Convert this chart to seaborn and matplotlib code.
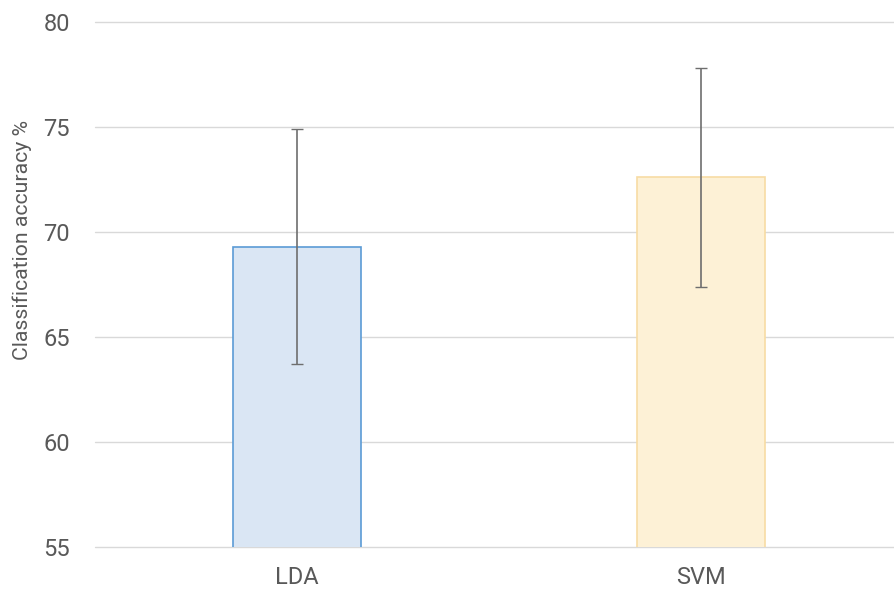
import matplotlib
matplotlib.use("Agg")
import matplotlib.pyplot as plt
import seaborn as sns
import pandas as pd

methods = ["LDA", "SVM"]
accuracy = [69.3, 72.6]
err = [5.6, 5.2]
fill_colors = ["#dae6f4", "#fdf1d6"]
edge_colors = ["#5b9bd5", "#f7dca4"]

sns.set_theme(style="white")
plt.rcParams['font.family'] = ['Roboto', 'DejaVu Sans']

df = pd.DataFrame({"method": methods, "acc": accuracy})

W, H = 894, 595
fig = plt.figure(figsize=(W / 100, H / 100), dpi=100)
ax = fig.add_axes([95 / W, (H - 547) / H, 808 / W, 525 / H])

sns.barplot(data=df, x="method", y="acc", hue="method", palette=fill_colors,
            saturation=1, width=0.315, legend=False, ax=ax, errorbar=None)
for p, ec in zip(ax.patches, edge_colors):
    p.set_edgecolor(ec)
    p.set_linewidth(1.2)

ax.errorbar(range(len(methods)), accuracy, yerr=err, fmt="none",
            ecolor="#6e6e6e", elinewidth=1.2, capsize=4, capthick=1.0, zorder=5)

ax.set_ylim(55, 80)
ax.set_xlim(-0.5, 1.5)
ax.set_yticks([55, 60, 65, 70, 75, 80])
ax.yaxis.grid(True, color="#d9d9d9", linewidth=1)
for gl in ax.get_ygridlines():
    gl.set_clip_on(False)
ax.set_axisbelow(True)
for s in ax.spines.values():
    s.set_visible(False)
ax.tick_params(axis="both", length=0, labelsize=17, colors="#595959")
ax.tick_params(axis="y", pad=18)
ax.tick_params(axis="x", pad=14)
ax.set_xlabel("")
ax.set_ylabel("Classification accuracy %", fontsize=15.3, color="#595959")
ax.yaxis.set_label_coords(-0.078, 0.585)

fig.savefig("out.png", dpi=100)
